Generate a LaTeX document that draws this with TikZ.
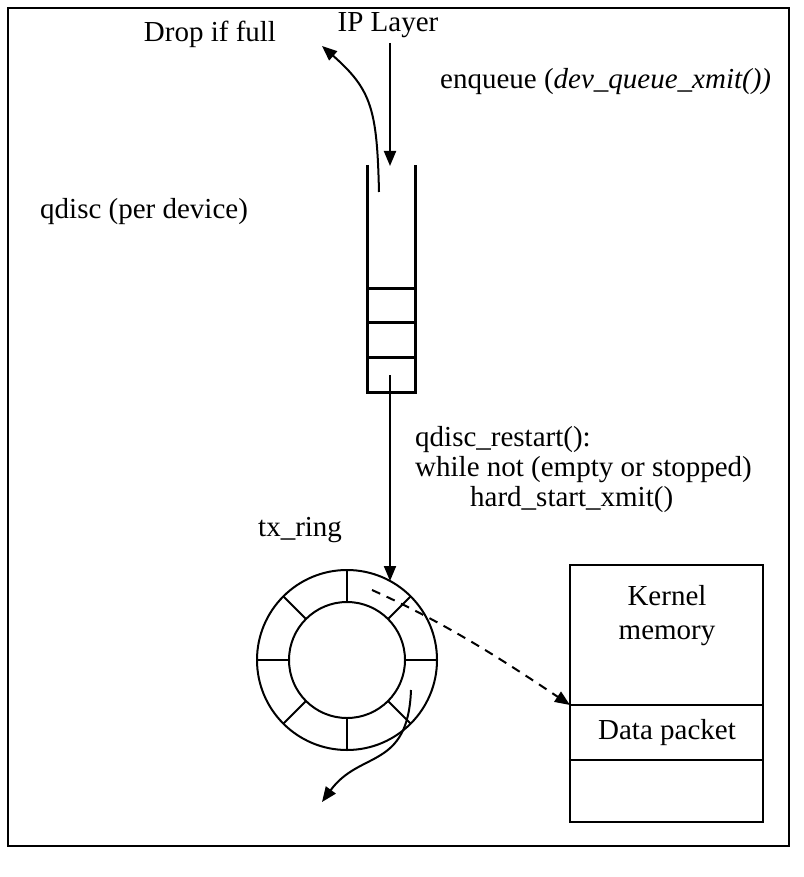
\documentclass[tikz,border=0pt]{standalone}
\usepackage{fontspec}
\setmainfont{Liberation Serif}
\usetikzlibrary{arrows.meta,calc}
\begin{document}
\begin{tikzpicture}[x=1pt,y=-1pt,
  every node/.style={font=\fontsize{29}{34}\selectfont, inner sep=0pt},
  frameline/.style={line width=2.2pt},
  qline/.style={line width=3pt},
  ringline/.style={line width=2pt},
  flow/.style={line width=2pt, -{Triangle[length=15pt,width=12pt]}},
  dflow/.style={line width=2pt, dashed, dash pattern=on 9pt off 7pt, -{Triangle[length=15pt,width=12pt]}}]
  \useasboundingbox (0,0) rectangle (803,877);
  % outer frame
  \draw[frameline] (8,8) rectangle (789,846);

  % labels
  \node (ip) at (388,25) {IP Layer};
  \node (drop) at (210,34) {Drop if full};
  \node[anchor=west] (enq) at (440,82) {enqueue (\textit{dev\_queue\_xmit())}};
  \node[anchor=west] (qd) at (40,212) {qdisc (per device)};
  \node[anchor=west] (rs1) at (415,440) {qdisc\_restart():};
  \node[anchor=west] (rs2) at (415,470) {while not (empty or stopped)};
  \node[anchor=west] (rs3) at (470,500) {hard\_start\_xmit()};
  \node[anchor=west] (txr) at (258,530) {tx\_ring};

  % the qdisc queue: open at the top, three slots at the bottom
  \draw[qline] (367,165) -- (367,392) -- (415,392) -- (415,165);
  \draw[qline] (367,288) -- (415,288);
  \draw[qline] (367,322) -- (415,322);
  \draw[qline] (367,357) -- (415,357);
  \coordinate (ipout) at (390,43);
  \coordinate (qin) at (390,166);
  \coordinate (qout) at (390,375);
  \coordinate (dropstart) at (379,192);
  \coordinate (dropend) at (322,46);

  % tx ring with eight slots
  \coordinate (rc) at (347,660);
  \draw[ringline] (rc) circle[radius=90];
  \draw[ringline] (rc) circle[radius=58];
  \foreach \a in {0,45,...,315}
    \draw[ringline] ($(rc)+(\a:58)$) -- ($(rc)+(\a:90)$);
  \coordinate (ringin) at (390,581);
  \coordinate (dstart) at (372,590);
  \coordinate (outstart) at (411,690);
  \coordinate (outend) at (322,802);

  % kernel memory
  \node[draw, line width=2.2pt, minimum width=193pt, minimum height=257pt] (km) at (666.5,693.5) {};
  \draw[line width=2.2pt] (km.west |- 0,705) -- (km.east |- 0,705);
  \draw[line width=2.2pt] (km.west |- 0,760) -- (km.east |- 0,760);
  \node[align=center] (kml) at (667,616) {Kernel\\memory};
  \node (dp) at (667,733) {Data packet};
  \coordinate (dpin) at (570,705);

  % flows
  \draw[flow] (ipout) -- (qin);
  \draw[flow] (dropstart) .. controls (377,110) and (372,90) .. (dropend);
  \draw[flow] (qout) -- (ringin);
  \draw[dflow] (dstart) .. controls (450,625) and (510,665) .. (dpin);
  \draw[flow] (outstart) .. controls (408,770) and (360,750) .. (outend);
\end{tikzpicture}
\end{document}
